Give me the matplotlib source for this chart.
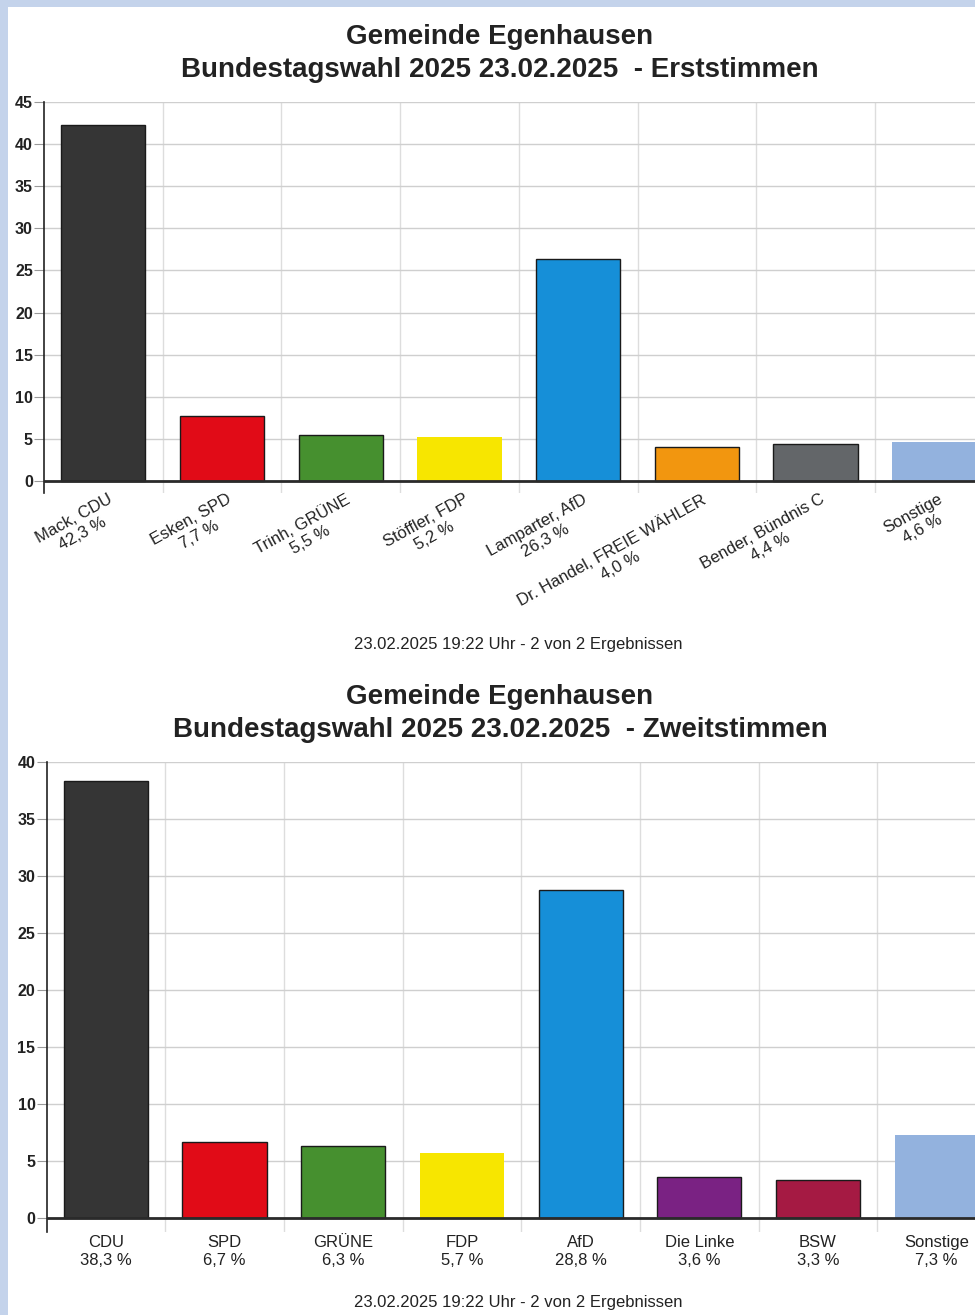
import matplotlib.pyplot as plt
import matplotlib.transforms as mtransforms
from matplotlib.patches import Rectangle

plt.rcParams['font.family'] = ['Liberation Sans', 'DejaVu Sans']

# Erststimmen
erst_names = ['Mack, CDU', 'Esken, SPD', 'Trinh, GRÜNE', 'Stöffler, FDP', 'Lamparter, AfD',
              'Dr. Handel, FREIE WÄHLER', 'Bender, Bündnis C', 'Sonstige']
erst_values = [42.3, 7.7, 5.5, 5.2, 26.3, 4.0, 4.4, 4.6]
erst_colors = ['#353535', '#e10b17', '#46902f', '#f7e600', '#168fd8', '#f2960f', '#636669', '#93b2de']

# Zweitstimmen
zweit_names = ['CDU', 'SPD', 'GRÜNE', 'FDP', 'AfD', 'Die Linke', 'BSW', 'Sonstige']
zweit_values = [38.3, 6.7, 6.3, 5.7, 28.8, 3.6, 3.3, 7.3]
zweit_colors = ['#353535', '#e10b17', '#46902f', '#f7e600', '#168fd8', '#7a2283', '#a51a43', '#93b2de']

footer = '23.02.2025 19:22 Uhr - 2 von 2 Ergebnissen'

W, H = 975, 1315
fig = plt.figure(figsize=(W / 100, H / 100), dpi=100)
fig.patch.set_facecolor('#c4d3eb')
fig.patches.append(Rectangle((8 / W, 0), 1, 1 - 7 / H, transform=fig.transFigure,
                             facecolor='white', edgecolor='none', zorder=-5))


def pct(v):
    return f'{v:.1f}'.replace('.', ',') + ' %'


def draw(px_left, px_top, px_zero, px_bottom, ymax, names, values, colors, rotated, title_y, footer_y, kind):
    step = 118.7
    px_right = px_left + 8 * step
    ylow = -(px_bottom - px_zero) / (px_zero - px_top) * ymax
    ax = fig.add_axes([px_left / W, 1 - px_bottom / H, (px_right - px_left) / W, (px_bottom - px_top) / H])
    ax.set_facecolor('none')
    x = list(range(len(values)))
    edges = ['none' if c in ('#f7e600', '#93b2de') else '#1a1a1a' for c in colors]
    ax.bar(x, values, width=0.71, color=colors, edgecolor=edges, linewidth=1.0, zorder=3)
    ax.set_xlim(-0.5, 7.5)
    ax.set_ylim(ylow, ymax)
    ax.set_yticks(range(0, ymax + 1, 5))
    ax.tick_params(axis='y', length=7, color='#999999', labelsize=11.5, labelcolor='#222222', pad=1)
    for lab in ax.get_yticklabels():
        lab.set_fontweight('bold')
    ax.grid(axis='y', color='#cfcfcf', linewidth=1, zorder=0)
    ax.set_xticks([i + 0.5 for i in range(7)], minor=True)
    ax.grid(axis='x', which='minor', color='#dddddd', linewidth=1, zorder=0)
    ax.tick_params(axis='x', which='minor', length=0)
    ax.axhline(0, color='#2a2a2a', linewidth=2, zorder=4)
    for s in ['top', 'right', 'bottom']:
        ax.spines[s].set_visible(False)
    ax.spines['left'].set_color('#222222')
    ax.spines['left'].set_linewidth(1.2)
    labels = [f'{n}\n{pct(v)}' for n, v in zip(names, values)]
    ax.set_xticks(x)
    if rotated:
        ax.set_xticklabels(labels, rotation=29, ha='right', va='top', rotation_mode='anchor',
                           multialignment='center', fontsize=12, color='#222222')
        ax.tick_params(axis='x', which='major', length=0, pad=-1)
        shift = mtransforms.ScaledTranslation(4 / 100, 0, fig.dpi_scale_trans)
        for lab in ax.get_xticklabels():
            lab.set_transform(lab.get_transform() + shift)
    else:
        ax.set_xticklabels(labels, multialignment='center', fontsize=12, color='#222222', linespacing=1.3)
        ax.tick_params(axis='x', which='major', length=0, pad=2)
    fig.text(500 / W, 1 - title_y / H, 'Gemeinde Egenhausen', ha='center', va='center',
             fontsize=20, fontweight='bold', color='#222222')
    fig.text(500 / W, 1 - (title_y + 33) / H, f'Bundestagswahl 2025 23.02.2025  - {kind}', ha='center',
             va='center', fontsize=20, fontweight='bold', color='#222222')
    fig.text(518 / W, 1 - footer_y / H, footer, ha='center', va='center', fontsize=12, color='#222222')
    return ax


draw(44, 102, 481, 493, 45, erst_names, erst_values, erst_colors, True, 37, 645, 'Erststimmen')
draw(46.5, 762, 1218, 1232, 40, zweit_names, zweit_values, zweit_colors, False, 697, 1302, 'Zweitstimmen')

fig.savefig('out.png', dpi=100)
